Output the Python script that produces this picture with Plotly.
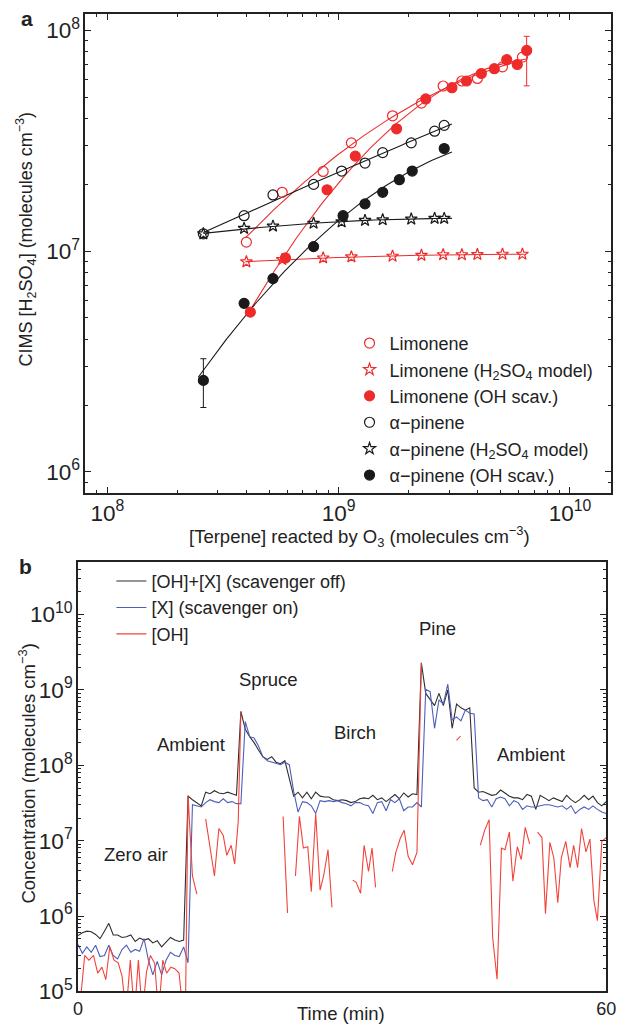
import numpy as np
import plotly.graph_objects as go

# ---------------- Panel a data ----------------
lim_x = [3.99e8, 5.70e8, 8.57e8, 1.135e9, 1.71e9, 2.28e9, 2.83e9, 3.41e9, 3.98e9, 5.11e9, 6.23e9]
lim_y = [1.10e7, 1.85e7, 2.30e7, 3.10e7, 4.11e7, 4.69e7, 5.61e7, 5.91e7, 6.07e7, 6.85e7, 7.58e7]
lim_model_y = [8.96e6, 9.18e6, 9.33e6, 9.43e6, 9.50e6, 9.59e6, 9.65e6, 9.65e6, 9.67e6, 9.70e6, 9.70e6]

lim_scav_x = [4.15e8, 5.89e8, 8.91e8, 1.18e9, 1.78e9, 2.38e9, 3.09e9, 3.57e9, 4.14e9, 4.71e9, 5.33e9, 5.92e9, 6.50e9]
lim_scav_y = [5.30e6, 9.33e6, 1.90e7, 2.70e7, 3.59e7, 4.90e7, 5.51e7, 5.91e7, 6.39e7, 6.72e7, 7.38e7, 7.02e7, 8.13e7]
lim_scav_err_plus = [None] * 12 + [1.29e7]
lim_scav_err_minus = [None] * 12 + [2.51e7]

pin_x = [2.60e8, 3.90e8, 5.20e8, 7.79e8, 1.03e9, 1.30e9, 1.55e9, 2.06e9, 2.60e9, 2.86e9]
pin_y = [1.20e7, 1.45e7, 1.80e7, 2.01e7, 2.31e7, 2.51e7, 2.80e7, 3.10e7, 3.50e7, 3.72e7]
pin_model_y = [1.20e7, 1.27e7, 1.30e7, 1.34e7, 1.36e7, 1.38e7, 1.39e7, 1.40e7, 1.41e7, 1.41e7]

pin_scav_x = [2.60e8, 3.90e8, 5.20e8, 7.79e8, 1.045e9, 1.30e9, 1.55e9, 1.83e9, 2.08e9, 2.86e9]
pin_scav_y = [2.60e6, 5.81e6, 7.52e6, 1.05e7, 1.45e7, 1.64e7, 1.85e7, 2.11e7, 2.31e7, 2.92e7]
pin_scav_err_plus = [0.66e6] + [None] * 9
pin_scav_err_minus = [0.64e6] + [None] * 9

# ---------------- Panel b data ----------------
time_min = [i * 0.5 for i in range(121)]

oh_x = [
    5.5e5, 6.0e5, 6.3e5, 6.2e5, 5.7e5, 5.0e5, 6.3e5, 8.0e5, 5.6e5, 5.6e5,
    5.2e5, 5.3e5, 5.6e5, 4.6e5, 5.1e5, 4.8e5, 5.0e5, 4.4e5, 4.7e5, 3.9e5,
    4.5e5, 5.2e5, 4.8e5, 4.6e5, 4.8e5,
    3.9e7, 3.5e7, 3.2e7, 2.9e7, 4.4e7, 4.2e7, 4.6e7, 4.3e7, 4.2e7, 4.4e7, 4.2e7, 4.0e7, 5.2e8,
    3.0e8, 2.4e8, 2.0e8, 1.6e8, 1.3e8, 1.2e8, 1.3e8, 1.1e8, 1.05e8, 1.15e8, 6.5e7, 3.9e7,
    4.4e7, 3.7e7, 4.4e7, 3.6e7, 4.4e7, 3.9e7, 3.8e7, 3.8e7, 3.5e7, 3.4e7,
    3.5e7, 3.4e7, 3.2e7, 3.3e7, 3.6e7, 3.7e7, 3.6e7, 4.0e7, 3.5e7, 3.7e7,
    3.3e7, 3.7e7, 4.1e7, 3.6e7, 4.3e7, 3.8e7, 4.2e7, 4.1e7,
    2.3e9, 9.0e8, 7.5e8, 6.2e8, 9.0e8, 6.2e8, 1.0e9, 3.1e8, 6.5e8, 5.8e8, 5.4e8, 5.8e8,
    5.0e7, 4.4e7, 4.5e7, 4.2e7, 4.0e7, 4.1e7, 4.7e7, 4.3e7, 3.9e7, 3.7e7,
    3.7e7, 3.5e7, 4.1e7, 3.9e7, 2.6e7, 4.0e7, 3.7e7, 3.4e7, 3.7e7, 3.5e7,
    3.3e7, 4.0e7, 3.5e7, 3.2e7, 3.5e7, 4.0e7, 3.5e7, 3.9e7, 3.2e7, 2.9e7, 3.3e7,
]

x_only = [
    4.2e5, 3.2e5, 3.9e5, 3.3e5, 4.1e5, 2.9e5, 3.0e5, 4.1e5, 3.0e5, 2.7e5,
    3.6e5, 4.1e5, 3.3e5, 3.6e5, 3.4e5, 5.0e5, 2.6e5, 1.66e5, 2.5e5, 1.66e5,
    2.6e5, 3.3e5, 3.0e5, 2.9e5, 3.9e5,
    2.4e5, 3.0e7, 2.9e7, 2.8e7, 3.2e7, 3.5e7, 3.3e7, 3.2e7, 3.6e7, 3.2e7, 3.3e7, 3.1e7, 3.1e7,
    3.8e8, 2.4e8, 2.3e8, 1.8e8, 1.3e8, 1.15e8, 1.1e8, 1.05e8, 1.02e8, 1.1e8, 1.02e8, 4.5e7,
    2.4e7, 3.3e7, 3.2e7, 2.9e7, 2.3e7, 3.4e7, 3.3e7, 3.4e7, 3.3e7, 3.4e7,
    3.2e7, 3.1e7, 2.9e7, 3.2e7, 3.2e7, 3.0e7, 2.9e7, 2.3e7, 3.2e7, 3.3e7,
    2.5e7, 3.5e7, 3.2e7, 3.6e7, 2.5e7, 2.8e7, 2.8e7, 3.2e7,
    2.8e7, 1.02e9, 9.5e8, 3.1e8, 7.4e8, 6.5e8, 1.2e9, 4.0e8, 4.4e8, 3.9e8, 5.4e8, 4.9e8, 4.8e8,
    3.7e7, 3.4e7, 3.5e7, 2.8e7, 3.6e7, 3.8e7, 3.6e7, 2.9e7, 3.4e7, 3.2e7,
    2.6e7, 2.9e7, 2.8e7, 2.8e7, 2.9e7, 3.0e7, 3.0e7, 2.9e7, 2.8e7, 2.9e7,
    2.6e7, 2.9e7, 2.3e7, 2.6e7, 2.8e7, 2.6e7, 2.9e7, 2.6e7, 2.4e7, 2.3e7,
]

oh_time = [
    0.13, 0.76, 1.24, 1.76, 2.24, 2.72, 3.16, 3.61, 4.09, 4.57, 5.01, 5.45, 5.94, 6.41, 6.86,
    7.30, 7.78, 8.23, 8.71, 9.15, 9.63, 10.07, 10.55, 10.99, 11.48, 11.96, 12.2, 12.5, 13.0, 13.5,
    13.9, 14.5, 15.5, 16.0, 16.5, 16.9, 17.4, 17.8, 18.2, 18.5, 18.8,
    23.3, 23.8, 24.2, 24.7, 25.15, 25.6, 26.1, 26.5, 27.0, 27.5, 27.9, 28.4, 28.85, 30.0,
    31.2, 31.6, 32.1, 32.5, 33.0, 33.4, 33.8, 34.7,
    35.7, 36.1, 36.6, 37.05, 37.5, 38.0, 38.5, 39.0, 41.0,
    43.0, 43.45, 44.5,
    45.7, 46.2, 46.7, 47.1, 47.6, 48.1, 48.5, 49.0, 49.4, 49.9, 50.35, 50.8, 51.3, 51.75,
    52.2, 52.7, 53.1, 53.6, 54.05, 54.5, 54.9, 55.4, 55.9, 56.3, 56.75, 57.2, 57.7, 58.15,
    58.6, 59.0, 59.5, 60.0,
]
oh = [
    5e4, 3.0e5, 2.6e5, 3.0e5, 1.75e5, 2.1e5, 1.43e5, 3.9e5, 2.6e5, 2.4e5, 1.58e5, 5e4, 2.6e5, 5e4, 2.6e5,
    5e4, 1.8e5, 3.0e5, 2.36e5, 5e4, 2.6e5, 1.75e5, 2.1e5, 2.0e5, 1.75e5, 5e4, 5e4, 4.0e7, 3.4e6, 1.95e6,
    None, 1.95e7, 3.4e6, 1.45e7, 1.17e7, 6.4e6, 8.7e6, 4.9e6, 1.8e7, 5.0e8, None,
    2.1e7, 1.1e6, None, 3.4e6, 2.1e7, 8.0e6, 8.3e6, 2.1e6, 2.3e7, 2.2e6, 3.4e6, 7.6e6, 1.3e6, None,
    3.0e6, 2.8e6, 2.0e6, 8.7e6, 3.9e6, 8.0e6, 2.4e6, None,
    3.9e6, 7.0e6, 1.07e7, 1.38e7, 6.2e6, 4.8e6, 7.0e6, 2.3e9, None,
    2.15e8, 2.45e8, None,
    8.7e6, 1.38e7, 1.9e7, 5.2e5, 1.45e5, 8.0e6, 7.6e6, 1.3e7, 2.9e6, 8.3e6, 5.6e6, 1.5e7, 9.1e6, None,
    1.3e7, 1.1e7, 1.07e6, 9.5e6, 5.9e6, 1.5e6, 5.9e6, 9.8e6, 4.4e6, 8.7e6, 4.4e6, 1.45e7, 7.1e6, 1.05e7,
    1.6e6, 8.7e5, 9.8e6, 1.1e7,
]

scene_labels = ["Zero air", "Ambient", "Spruce", "Birch", "Pine", "Ambient"]

# ---------------- styling ----------------
FONT = "Liberation Sans, Arial, sans-serif"
RED = "#ee2b2b"
BLACK = "#1a1a1a"
TXT = 18.5
LEG = 18
W, H = 625, 1036


def px(xp):
    return xp / W


def py(yp):
    return 1 - yp / H


def loglog_fit(x, y, deg, lo, hi, n=80):
    lx = np.log10(np.asarray(x, float))
    ly = np.log10(np.asarray(y, float))
    c = np.polyfit(lx, ly, deg)
    xs = np.linspace(lx.min() + np.log10(lo), lx.max() + np.log10(hi), n)
    return 10 ** xs, 10 ** np.polyval(c, xs)


fig = go.Figure()

# fit lines (panel a)
fits = [
    (lim_x, lim_y, RED, 2, 0.99, 1.0),
    (lim_x, lim_model_y, RED, 2, 0.99, 1.02),
    (lim_scav_x, lim_scav_y, RED, 2, 1.0, 1.0),
    (pin_x, pin_y, BLACK, 2, 1.0, 1.08),
    (pin_x, pin_model_y, BLACK, 2, 1.0, 1.08),
    (pin_scav_x, pin_scav_y, BLACK, 2, 0.95, 1.08),
]
for fx, fy, col, deg, lo, hi in fits:
    xs, ys = loglog_fit(fx, fy, deg, lo, hi)
    fig.add_trace(go.Scatter(x=xs, y=ys, mode="lines", line=dict(color=col, width=1.1),
                             showlegend=False, hoverinfo="skip", xaxis="x", yaxis="y"))

series_a = [
    ("Limonene", lim_x, lim_y, "circle-open", RED, None, None),
    ("Limonene (H<sub>2</sub>SO<sub>4</sub> model)", lim_x, lim_model_y, "star-open", RED, None, None),
    ("Limonene (OH scav.)", lim_scav_x, lim_scav_y, "circle", RED, lim_scav_err_plus, lim_scav_err_minus),
    ("α−pinene", pin_x, pin_y, "circle-open", BLACK, None, None),
    ("α−pinene (H<sub>2</sub>SO<sub>4</sub> model)", pin_x, pin_model_y, "star-open", BLACK, None, None),
    ("α−pinene (OH scav.)", pin_scav_x, pin_scav_y, "circle", BLACK, pin_scav_err_plus, pin_scav_err_minus),
]
for name, sx, sy, sym, col, ep, em in series_a:
    kw = {}
    if ep is not None:
        kw["error_y"] = dict(type="data", symmetric=False, array=ep, arrayminus=em,
                             color=col, thickness=1, width=3, visible=True)
    fig.add_trace(go.Scatter(
        x=sx, y=sy, mode="markers", name=name,
        marker=dict(symbol=sym, size=10 if "circle" in sym else 9, color=col,
                    line=dict(color=col, width=1.2)),
        xaxis="x", yaxis="y", legend="legend", **kw))

# panel b lines
fig.add_trace(go.Scatter(x=time_min, y=oh_x, mode="lines", name="[OH]+[X] (scavenger off)",
                         line=dict(color="#2e2e2e", width=1.1), xaxis="x2", yaxis="y2", legend="legend2"))
fig.add_trace(go.Scatter(x=time_min, y=x_only, mode="lines", name="[X] (scavenger on)",
                         line=dict(color="#4d5eb8", width=1.1), xaxis="x2", yaxis="y2", legend="legend2"))
fig.add_trace(go.Scatter(x=oh_time, y=oh, mode="lines", name="[OH]", connectgaps=False,
                         line=dict(color="#f2433b", width=1.1), xaxis="x2", yaxis="y2", legend="legend2"))

axis_common = dict(showline=True, linecolor="#222", linewidth=1.5, mirror="ticks",
                   showgrid=False, zeroline=False, ticks="inside", tickcolor="#222",
                   tickfont=dict(family=FONT, size=18, color="#222"))
log_minor = dict(ticks="inside", ticklen=3, tickcolor="#222", dtick="D1", showgrid=False)

fig.update_layout(
    width=W, height=H, margin=dict(l=0, r=0, t=0, b=0),
    paper_bgcolor="white", plot_bgcolor="white",
    font=dict(family=FONT, size=TXT, color="#222"),
    xaxis=dict(type="log", range=[7.905, 10.178], domain=[px(82.4), px(621)], anchor="y",
               dtick=1, exponentformat="power", showexponent="all", ticklen=6,
               minor=log_minor, **axis_common),
    yaxis=dict(type="log", range=[5.906, 8.076], domain=[py(499), py(14)], anchor="x",
               dtick=1, exponentformat="power", showexponent="all", ticklen=6,
               minor=log_minor, **axis_common),
    xaxis2=dict(range=[0, 60], domain=[px(74.8), px(616)], anchor="y2",
                tickvals=[0, 60], ticktext=["0", "60"], ticklabeloverflow="allow",
                **{**axis_common, "ticks": "", "mirror": True}),
    yaxis2=dict(type="log", range=[5, 10.7], domain=[py(1004), py(569)], anchor="x2",
                dtick=1, exponentformat="power", showexponent="all", ticklen=6,
                minor=log_minor, **axis_common),
    legend=dict(x=px(353), y=py(329), xanchor="left", yanchor="top",
                font=dict(family=FONT, size=LEG, color="#222"), bgcolor="rgba(0,0,0,0)",
                itemsizing="trace", tracegroupgap=0),
    legend2=dict(x=px(109), y=py(570), xanchor="left", yanchor="top",
                 font=dict(family=FONT, size=LEG, color="#222"), bgcolor="rgba(0,0,0,0)",
                 tracegroupgap=0),
)

ann = []
ann.append(dict(text="<b>a</b>", x=px(23), y=py(19), font=dict(size=21)))
ann.append(dict(text="<b>b</b>", x=px(21), y=py(573.5), font=dict(size=21)))
ann.append(dict(text="CIMS [H<sub>2</sub>SO<sub>4</sub>] (molecules cm<sup>−3</sup>)",
                x=px(22), y=py(242), textangle=-90, font=dict(size=18)))
ann.append(dict(text="[Terpene] reacted by O<sub>3</sub> (molecules cm<sup>−3</sup>)",
                x=px(363), y=py(543)))
ann.append(dict(text="Concentration (molecules cm<sup>−3</sup>)", x=px(23), y=py(783), textangle=-90))
ann.append(dict(text="Time (min)", x=px(344), y=py(1026)))
label_pos = [(134, 865), (191, 754), (270, 688), (359, 742), (443, 636), (539, 764)]
for lab, (lx, ly) in zip(scene_labels, label_pos):
    ann.append(dict(text=lab, x=px(lx), y=py(ly)))
for a in ann:
    a.update(xref="paper", yref="paper", showarrow=False, xanchor="center", yanchor="middle")
    size = a.get("font", {}).get("size", TXT)
    a["font"] = dict(family=FONT, color="#222", size=size)
fig.update_layout(annotations=ann)

fig.write_html(
    "out.html",
    config={"displayModeBar": False},
    post_script=("document.documentElement.style.margin='0';"
                 "document.documentElement.style.overflow='hidden';"
                 "document.body.style.margin='0';document.body.style.overflow='hidden';"),
)
